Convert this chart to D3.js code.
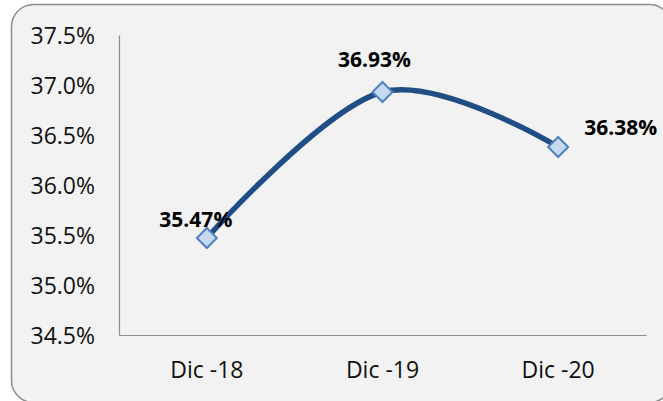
<!DOCTYPE html>
<html>
<head>
<meta charset="utf-8">
<script src="https://cdn.jsdelivr.net/npm/d3@7"></script>
<style>
  body { margin: 0; background: #fff; }
  svg { display: block; }
  text { font-family: "Open Sans", "Liberation Sans", sans-serif; }
</style>
</head>
<body>
<div id="chart"></div>
<script>
// data
var categories = ["Dic -18", "Dic -19", "Dic -20"];
var values = [35.47, 36.93, 36.38];
var yTicks = [34.5, 35.0, 35.5, 36.0, 36.5, 37.0, 37.5];

var width = 663;
var height = 401;
var margin = { top: 35, right: 17, bottom: 66, left: 119 };

var svg = d3.select("#chart")
    .append("svg")
    .attr("width", width)
    .attr("height", height);

// frame with rounded corners (runs off the right/bottom edge)
svg.append("rect")
    .attr("x", 11.5)
    .attr("y", 4.5)
    .attr("width", 660)
    .attr("height", 398)
    .attr("rx", 22)
    .attr("fill", "#f2f2f2")
    .attr("stroke", "#8c8c8c")
    .attr("stroke-width", 1.5);

var x = d3.scaleBand()
    .domain(categories)
    .range([margin.left, width - margin.right]);

var y = d3.scaleLinear()
    .domain([34.5, 37.5])
    .range([height - margin.bottom, margin.top]);

// y axis
var yAxis = svg.append("g")
    .attr("transform", "translate(" + margin.left + ",0)")
    .call(d3.axisLeft(y).tickValues(yTicks).tickSize(0).tickPadding(24)
        .tickFormat(function (d) { return d.toFixed(1) + "%"; }));
yAxis.select(".domain").attr("stroke", "#8c8c8c").attr("stroke-width", 1.2);
yAxis.selectAll("text")
    .attr("font-size", "23px")
    .attr("fill", "#111")
    .attr("dy", "0.36em");

// x axis
var xAxis = svg.append("g")
    .attr("transform", "translate(0," + (height - margin.bottom) + ")")
    .call(d3.axisBottom(x).tickSize(0).tickPadding(27));
xAxis.select(".domain").attr("stroke", "#8c8c8c").attr("stroke-width", 1.2);
xAxis.selectAll("text")
    .attr("font-size", "23px")
    .attr("fill", "#111");

var cx = function (d, i) { return x(categories[i]) + x.bandwidth() / 2; };

// smoothed line
var line = d3.line()
    .x(function (d, i) { return cx(d, i); })
    .y(function (d) { return y(d); })
    .curve(d3.curveCardinal.tension(0));

svg.append("path")
    .datum(values)
    .attr("d", line)
    .attr("fill", "none")
    .attr("stroke", "#1f4d86")
    .attr("stroke-width", 5.5)
    .attr("stroke-linecap", "round");

// diamond markers
svg.selectAll(".marker")
    .data(values)
    .enter()
    .append("path")
    .attr("class", "marker")
    .attr("d", "M0,-10L10,0L0,10L-10,0Z")
    .attr("transform", function (d, i) {
        return "translate(" + cx(d, i) + "," + y(d) + ")";
    })
    .attr("fill", "#c6d9f1")
    .attr("stroke", "#4f81bd")
    .attr("stroke-width", 2);

// data labels
var labelOffsets = [[-11, -11], [-8, -25], [26, -12]];
var labelAnchors = ["middle", "middle", "start"];
svg.selectAll(".lbl")
    .data(values)
    .enter()
    .append("text")
    .attr("class", "lbl")
    .attr("x", function (d, i) { return cx(d, i) + labelOffsets[i][0]; })
    .attr("y", function (d, i) { return y(d) + labelOffsets[i][1]; })
    .attr("text-anchor", function (d, i) { return labelAnchors[i]; })
    .attr("font-size", "21px")
    .attr("font-weight", "bold")
    .attr("fill", "#000")
    .text(function (d) { return d.toFixed(2) + "%"; });
</script>
</body>
</html>
